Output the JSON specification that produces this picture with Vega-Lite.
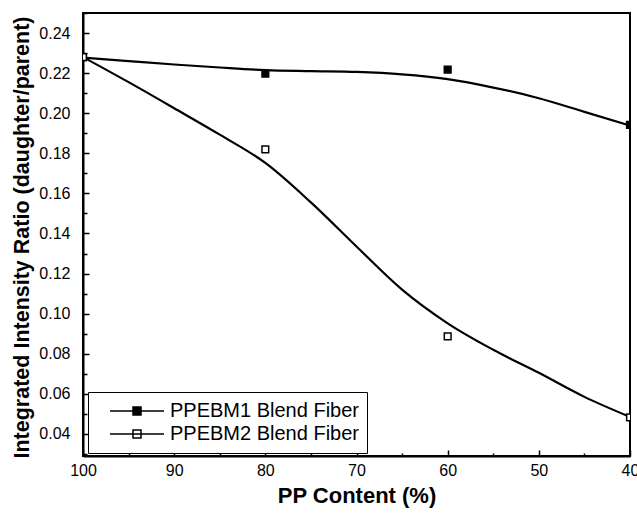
{
  "$schema": "https://vega.github.io/schema/vega-lite/v6.json",
  "width": 547,
  "height": 443,
  "autosize": {"type": "none"},
  "padding": {"left": 83, "top": 13, "right": 7, "bottom": 65},
  "background": "white",
  "config": {
    "view": {"stroke": "black", "strokeWidth": 2},
    "font": "Liberation Sans",
    "axis": {"labelColor": "black", "tickColor": "black", "domainColor": "black", "titleColor": "black", "grid": false}
  },
  "data": {
    "values": [
      {"series": "PPEBM1 Blend Fiber", "kind": "point", "x": 100, "y": 0.228},
      {"series": "PPEBM1 Blend Fiber", "kind": "point", "x": 80, "y": 0.2197},
      {"series": "PPEBM1 Blend Fiber", "kind": "point", "x": 60, "y": 0.2218},
      {"series": "PPEBM1 Blend Fiber", "kind": "point", "x": 40, "y": 0.1942},
      {"series": "PPEBM2 Blend Fiber", "kind": "point", "x": 100, "y": 0.228},
      {"series": "PPEBM2 Blend Fiber", "kind": "point", "x": 80, "y": 0.182},
      {"series": "PPEBM2 Blend Fiber", "kind": "point", "x": 60, "y": 0.0887},
      {"series": "PPEBM2 Blend Fiber", "kind": "point", "x": 40, "y": 0.0483},
      {"series": "PPEBM1 Blend Fiber", "kind": "curve", "x": 100, "y": 0.2277},
      {"series": "PPEBM1 Blend Fiber", "kind": "curve", "x": 95, "y": 0.226},
      {"series": "PPEBM1 Blend Fiber", "kind": "curve", "x": 90, "y": 0.2243},
      {"series": "PPEBM1 Blend Fiber", "kind": "curve", "x": 85, "y": 0.2228},
      {"series": "PPEBM1 Blend Fiber", "kind": "curve", "x": 80, "y": 0.2215},
      {"series": "PPEBM1 Blend Fiber", "kind": "curve", "x": 75, "y": 0.221},
      {"series": "PPEBM1 Blend Fiber", "kind": "curve", "x": 70, "y": 0.2206},
      {"series": "PPEBM1 Blend Fiber", "kind": "curve", "x": 65, "y": 0.2194},
      {"series": "PPEBM1 Blend Fiber", "kind": "curve", "x": 60, "y": 0.217},
      {"series": "PPEBM1 Blend Fiber", "kind": "curve", "x": 55, "y": 0.2128},
      {"series": "PPEBM1 Blend Fiber", "kind": "curve", "x": 50, "y": 0.2075},
      {"series": "PPEBM1 Blend Fiber", "kind": "curve", "x": 45, "y": 0.2007},
      {"series": "PPEBM1 Blend Fiber", "kind": "curve", "x": 40, "y": 0.1938},
      {"series": "PPEBM2 Blend Fiber", "kind": "curve", "x": 100, "y": 0.228},
      {"series": "PPEBM2 Blend Fiber", "kind": "curve", "x": 95, "y": 0.2155},
      {"series": "PPEBM2 Blend Fiber", "kind": "curve", "x": 90, "y": 0.2025},
      {"series": "PPEBM2 Blend Fiber", "kind": "curve", "x": 85, "y": 0.1893},
      {"series": "PPEBM2 Blend Fiber", "kind": "curve", "x": 80, "y": 0.1752},
      {"series": "PPEBM2 Blend Fiber", "kind": "curve", "x": 75, "y": 0.1555},
      {"series": "PPEBM2 Blend Fiber", "kind": "curve", "x": 70, "y": 0.1335},
      {"series": "PPEBM2 Blend Fiber", "kind": "curve", "x": 65, "y": 0.112},
      {"series": "PPEBM2 Blend Fiber", "kind": "curve", "x": 60, "y": 0.0952},
      {"series": "PPEBM2 Blend Fiber", "kind": "curve", "x": 55, "y": 0.082},
      {"series": "PPEBM2 Blend Fiber", "kind": "curve", "x": 50, "y": 0.0705},
      {"series": "PPEBM2 Blend Fiber", "kind": "curve", "x": 45, "y": 0.0585},
      {"series": "PPEBM2 Blend Fiber", "kind": "curve", "x": 40, "y": 0.0485}
    ]
  },
  "layer": [
    {
      "transform": [{"filter": "datum.kind === 'curve'"}],
      "mark": {"type": "line", "interpolate": "monotone", "color": "black", "strokeWidth": 2.2, "clip": true},
      "encoding": {
        "x": {
          "field": "x", "type": "quantitative",
          "scale": {"domain": [40, 100], "reverse": true, "nice": false, "zero": false},
          "axis": {
            "orient": "bottom",
            "values": [100, 90, 80, 70, 60, 50, 40],
            "format": "d",
            "tickSize": -6, "tickWidth": 1.5,
            "domainWidth": 2,
            "labelFontSize": 16, "labelPadding": 12,
            "labelFlush": false,
            "title": "PP Content (%)",
            "titleFontSize": 22, "titleFontWeight": "bold",
            "titleX": 273.5, "titleY": 39, "titleBaseline": "middle", "titleAlign": "center"
          }
        },
        "y": {
          "field": "y", "type": "quantitative",
          "scale": {"domain": [0.029, 0.25], "nice": false, "zero": false},
          "axis": {
            "orient": "left",
            "values": [0.04, 0.06, 0.08, 0.1, 0.12, 0.14, 0.16, 0.18, 0.2, 0.22, 0.24],
            "format": ".2f",
            "tickSize": -6, "tickWidth": 1.5,
            "domainWidth": 2,
            "labelFontSize": 16, "labelPadding": 19,
            "labelFlush": false,
            "title": "Integrated Intensity Ratio (daughter/parent)",
            "titleFontSize": 21.5, "titleFontWeight": "bold",
            "titleX": -61, "titleY": 224, "titleAngle": -90, "titleBaseline": "middle", "titleAlign": "center"
          }
        },
        "detail": {"field": "series"}
      }
    },
    {
      "transform": [{"filter": "datum.kind === 'point'"}],
      "mark": {"type": "square", "size": 45, "stroke": "black", "strokeWidth": 1.5, "filled": true, "opacity": 1, "clip": true},
      "encoding": {
        "x": {
          "field": "x", "type": "quantitative",
          "axis": {"orient": "bottom", "values": [95, 85, 75, 65, 55, 45], "labels": false, "domain": false, "title": null, "tickSize": -3, "tickWidth": 1.5}
        },
        "y": {
          "field": "y", "type": "quantitative",
          "axis": {"orient": "left", "values": [0.03, 0.05, 0.07, 0.09, 0.11, 0.13, 0.15, 0.17, 0.19, 0.21, 0.23, 0.25], "labels": false, "domain": false, "title": null, "tickSize": -4, "tickWidth": 1.5}
        },
        "fill": {
          "field": "series", "type": "nominal",
          "scale": {"domain": ["PPEBM1 Blend Fiber", "PPEBM2 Blend Fiber"], "range": ["black", "white"]},
          "legend": {
            "title": null,
            "orient": "none", "legendX": 5, "legendY": 379,
            "strokeColor": "black", "fillColor": "white",
            "padding": 8,
            "symbolType": "M-0.675,0H0.675M-0.1,-0.1H0.1V0.1H-0.1Z",
            "symbolSize": 6400,
            "symbolStrokeColor": "black", "symbolStrokeWidth": 1.5,
            "labelFontSize": 20, "labelFont": "Liberation Sans", "labelColor": "black",
            "labelOffset": -8, "labelLimit": 400,
            "clipHeight": 22, "rowPadding": 1
          }
        }
      }
    }
  ],
  "resolve": {"axis": {"x": "independent", "y": "independent"}}
}
